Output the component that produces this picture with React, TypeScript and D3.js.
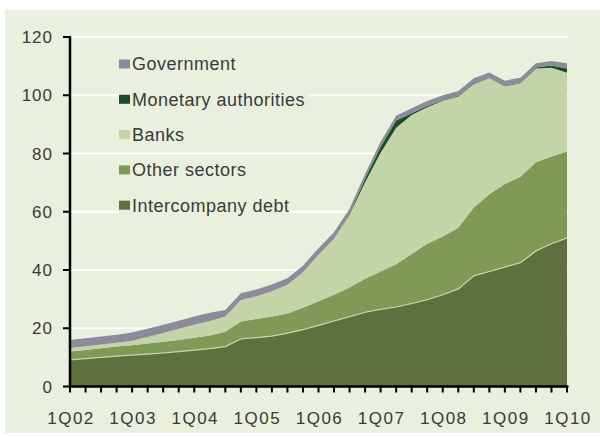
import React from "react";
import * as d3 from "d3";

const quarters = [
  "1Q02", "2Q02", "3Q02", "4Q02",
  "1Q03", "2Q03", "3Q03", "4Q03",
  "1Q04", "2Q04", "3Q04", "4Q04",
  "1Q05", "2Q05", "3Q05", "4Q05",
  "1Q06", "2Q06", "3Q06", "4Q06",
  "1Q07", "2Q07", "3Q07", "4Q07",
  "1Q08", "2Q08", "3Q08", "4Q08",
  "1Q09", "2Q09", "3Q09", "4Q09",
  "1Q10",
];

const tickLabels = ["1Q02", "1Q03", "1Q04", "1Q05", "1Q06", "1Q07", "1Q08", "1Q09", "1Q10"];
const yTicks = [0, 20, 40, 60, 80, 100, 120];

const intercompanyDebt = [
  9.1, 9.6, 10.0, 10.4, 10.8, 11.1, 11.5, 12.0,
  12.5, 13.0, 13.7, 16.3, 16.8, 17.3, 18.3, 19.5,
  21.0, 22.5, 24.0, 25.5, 26.5, 27.3, 28.5, 29.8,
  31.5, 33.5, 38.0, 39.5, 41.0, 42.5, 46.5, 49.0,
  51.0,
];
const otherSectors = [
  2.9, 2.9, 3.1, 3.3, 3.4, 3.7, 3.9, 4.0,
  4.2, 4.5, 5.1, 6.0, 6.4, 6.7, 6.8, 7.5,
  8.3, 9.0, 10.0, 11.5, 13.0, 14.7, 17.0, 19.2,
  20.0, 21.0, 23.5, 26.5, 28.5, 29.5, 30.5, 30.0,
  29.7,
];
const banks = [
  1.2, 1.3, 1.3, 1.3, 1.5, 2.2, 3.0, 3.8,
  4.5, 5.0, 5.2, 7.4, 7.8, 8.7, 9.8, 12.2,
  15.9, 19.2, 25.0, 33.1, 40.8, 46.8, 47.7, 46.9,
  46.6, 45.1, 42.4, 39.9, 33.6, 32.1, 32.2, 30.4,
  27.0,
];
const monetaryAuthorities = [
  0, 0, 0, 0, 0, 0, 0, 0,
  0, 0, 0, 0, 0, 0, 0, 0,
  0, 0, 0.3, 1.2, 2.0, 2.5, 0.6, 0.4,
  0.2, 0.2, 0.2, 0.2, 0.2, 0.2, 0.3, 0.8,
  1.5,
];
const government = [
  2.8, 2.8, 2.8, 2.8, 2.8, 2.8, 2.8, 2.8,
  2.8, 2.8, 2.3, 2.3, 2.3, 2.3, 2.3, 2.3,
  2.3, 2.3, 1.7, 1.7, 1.7, 1.7, 1.7, 1.7,
  1.7, 1.7, 1.7, 1.7, 1.7, 1.7, 1.5, 1.6,
  1.8,
];

const seriesKeys = ["ic", "os", "banks", "ma", "gov"];
const seriesNames = ["Intercompany debt", "Other sectors", "Banks", "Monetary authorities", "Government"];
const seriesColors = ["#5d703e", "#7e9a56", "#c2d4a8", "#1b4d26", "#8b8b9c"];

const legendOrder = [4, 3, 2, 1, 0];

const BG = "#e9f0dd";
const FONT = "'Liberation Sans', Arial, sans-serif";
const TEXT = "#3a3a3a";

export default function App() {
  const W = 600;
  const H = 437;
  const left = 70;
  const right = 567;
  const top = 37;
  const bottom = 386.5;

  const rows = quarters.map((q, i) => ({
    q,
    ic: intercompanyDebt[i],
    os: otherSectors[i],
    banks: banks[i],
    ma: monetaryAuthorities[i],
    gov: government[i],
  }));

  const x = d3.scalePoint<string>().domain(quarters).range([left, right]).padding(0);
  const y = d3.scaleLinear().domain([0, 120]).range([bottom, top]);

  const stacked = d3.stack<any>().keys(seriesKeys)(rows);

  const area = d3
    .area<any>()
    .x((d) => x(d.data.q) as number)
    .y0((d) => y(d[0]))
    .y1((d) => y(d[1]));

  const icLine = d3
    .line<any>()
    .x((d) => x(d.data.q) as number)
    .y((d) => y(d[1]));

  const legendWidths = [156, 120, 56, 176, 108];

  return (
    <svg
      width={W}
      height={H}
      style={{ position: "absolute", left: 0, top: 0, background: "#ffffff" }}
      fontFamily={FONT}
    >
      <rect x={5} y={10} width={595} height={423} fill={BG} />

      {/* gridlines */}
      {yTicks.filter((t) => t > 0).map((t) => (
        <line key={"g" + t} x1={left} x2={right + 1} y1={y(t)} y2={y(t)} stroke="#ffffff" strokeWidth={2.2} />
      ))}

      {/* areas */}
      {stacked.map((s, i) => (
        <path key={s.key} d={area(s) as string} fill={seriesColors[i]} />
      ))}
      <path d={icLine(stacked[0]) as string} fill="none" stroke="#c6d8ab" strokeWidth={1.2} />

      {/* axes */}
      <line x1={left} x2={left} y1={top - 1} y2={bottom + 1} stroke="#000" strokeWidth={2.5} />
      <line x1={left - 1} x2={right + 1.5} y1={bottom} y2={bottom} stroke="#000" strokeWidth={2.5} />
      {yTicks.map((t) => (
        <g key={"y" + t}>
          <line x1={left - 7} x2={left} y1={y(t)} y2={y(t)} stroke="#000" strokeWidth={2} />
          <text
            x={53}
            y={y(t)}
            dy="0.36em"
            textAnchor="end"
            fontSize={17}
            letterSpacing={1}
            fill={TEXT}
          >
            {t}
          </text>
        </g>
      ))}
      {quarters.map((q) => (
        <line key={"xt" + q} x1={x(q)} x2={x(q)} y1={bottom} y2={bottom + 6} stroke="#000" strokeWidth={2} />
      ))}
      {tickLabels.map((q) => (
        <text
          key={"xl" + q}
          x={(x(q) as number) + 1}
          y={424}
          textAnchor="middle"
          fontSize={17}
          letterSpacing={1.5}
          fill={TEXT}
        >
          {q}
        </text>
      ))}

      {/* legend */}
      {legendOrder.map((si, row) => {
        const cy = 64 + row * 35.3;
        return (
          <g key={"lg" + si}>
            <rect x={119} y={cy - 9} width={legendWidths[si] + 14} height={18} fill={BG} />
            <rect x={119} y={cy - 4.5} width={11} height={9} fill={seriesColors[si]} />
            <text x={132} y={cy} dy="0.36em" fontSize={18} letterSpacing={0.5} fill={TEXT}>
              {seriesNames[si]}
            </text>
          </g>
        );
      })}
    </svg>
  );
}
